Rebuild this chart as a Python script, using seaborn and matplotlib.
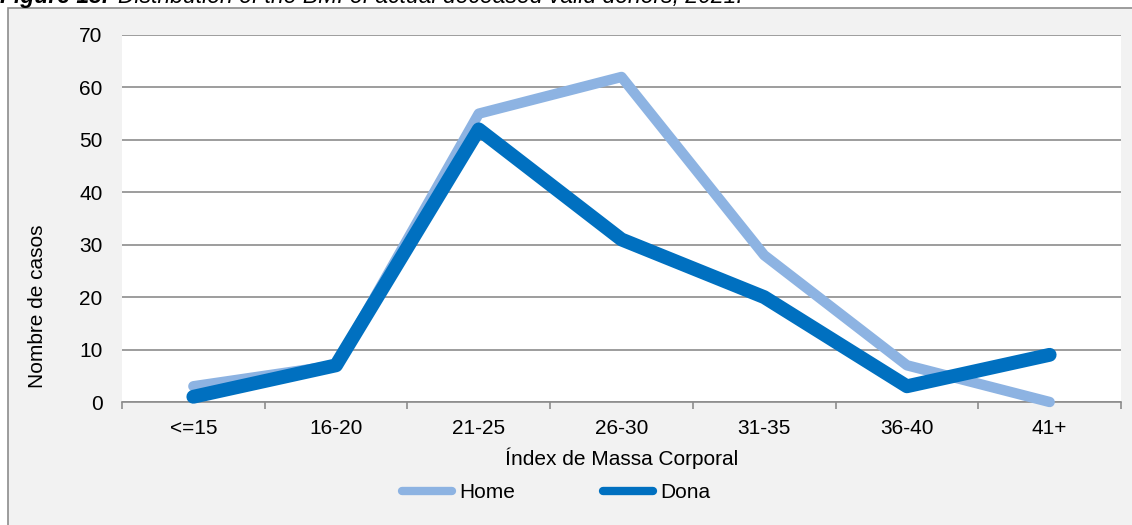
import matplotlib
matplotlib.use("Agg")
import matplotlib.pyplot as plt
from matplotlib.patches import Rectangle
from matplotlib.lines import Line2D
import seaborn as sns
import pandas as pd

categories = ["<=15", "16-20", "21-25", "26-30", "31-35", "36-40", "41+"]
home = [3, 7, 55, 62, 28, 7, 0]
dona = [1, 7, 52, 31, 20, 3, 9]
yticks = [0, 10, 20, 30, 40, 50, 60, 70]

df = pd.DataFrame({
    "cat": categories * 2,
    "val": home + dona,
    "serie": ["Home"] * len(home) + ["Dona"] * len(dona),
})

sns.set_theme(style="white")
plt.rcParams["font.family"] = ["Liberation Sans", "DejaVu Sans"]

FS = 15
W, H = 1132, 525
fig = plt.figure(figsize=(W / 100, H / 100), dpi=100)
fig.patch.set_facecolor("white")

# outer chart frame
frame = Rectangle((8 / W, -0.05), 1.1, 1 - 8 / H + 0.05, transform=fig.transFigure,
                  facecolor="#f2f2f2", edgecolor="#8c8c8c", linewidth=1.2, zorder=-10)
fig.patches.append(frame)

# cropped title
TFS = 16.5
t1 = fig.text(0.0 / W, 1 - 3 / H, "Figure 13. ", fontsize=TFS, fontweight="bold", fontstyle="italic",
              va="baseline", ha="left", color="black")
fig.canvas.draw()
bb = t1.get_window_extent(renderer=fig.canvas.get_renderer())
fig.text(bb.x1 / W + 3 / W, 1 - 3 / H, "Distribution of the BMI of actual deceased valid donors, 2021.",
         fontsize=TFS, fontstyle="italic", va="baseline", ha="left", color="black")

ax = fig.add_axes([122 / W, 1 - 402 / H, (1121 - 122) / W, (402 - 35) / H])
ax.set_zorder(1)
ax.set_facecolor("white")

sns.lineplot(data=df, x="cat", y="val", hue="serie", palette={"Home": "#8db3e2", "Dona": "#0070c0"},
             ax=ax, legend=False, sort=False)
lines = ax.get_lines()
lines[0].set_linewidth(7.5)
lines[1].set_linewidth(10)
for ln in lines:
    ln.set_solid_capstyle("round")
    ln.set_solid_joinstyle("round")
    ln.set_clip_on(False)
    ln.set_zorder(3)

ax.set_xlim(-0.5, len(categories) - 0.5)
ax.set_ylim(0, 70)
ax.set_yticks(yticks)
ax.set_yticklabels([str(v) for v in yticks], fontsize=FS, color="black")
ax.set_xticks(range(len(categories)))
ax.set_xticklabels(categories, fontsize=FS, color="black")
ax.set_xticks([i - 0.5 for i in range(len(categories) + 1)], minor=True)
ax.tick_params(axis="x", which="major", length=0, pad=12)
ax.tick_params(axis="x", which="minor", length=5, width=1.2, color="#8c8c8c", direction="out", bottom=True)
ax.tick_params(axis="y", which="major", length=0, pad=14)

ax.grid(axis="y", color="#8c8c8c", linewidth=1.2)
ax.set_axisbelow(True)
for s in ["top", "right", "left"]:
    ax.spines[s].set_visible(False)
ax.spines["bottom"].set_color("#8c8c8c")
ax.spines["bottom"].set_linewidth(1.2)

ax.set_xlabel("Índex de Massa Corporal", fontsize=FS, labelpad=7, color="black")
ax.set_ylabel("Nombre de casos", fontsize=FS, color="black")
ax.yaxis.set_label_coords((47 - 122) / 999, (402 - 306) / 367)

handles = [Line2D([], [], color="#8db3e2", linewidth=6, solid_capstyle="round"),
           Line2D([], [], color="#0070c0", linewidth=6, solid_capstyle="round")]
fig.legend(handles, ["Home", "Dona"], loc="center", bbox_to_anchor=(556 / W, 1 - 493 / H),
           ncol=2, frameon=False, fontsize=FS, handlelength=2.4, handletextpad=0.35,
           columnspacing=4.2, labelcolor="black")

fig.savefig("out.png", dpi=100, facecolor=fig.get_facecolor())
